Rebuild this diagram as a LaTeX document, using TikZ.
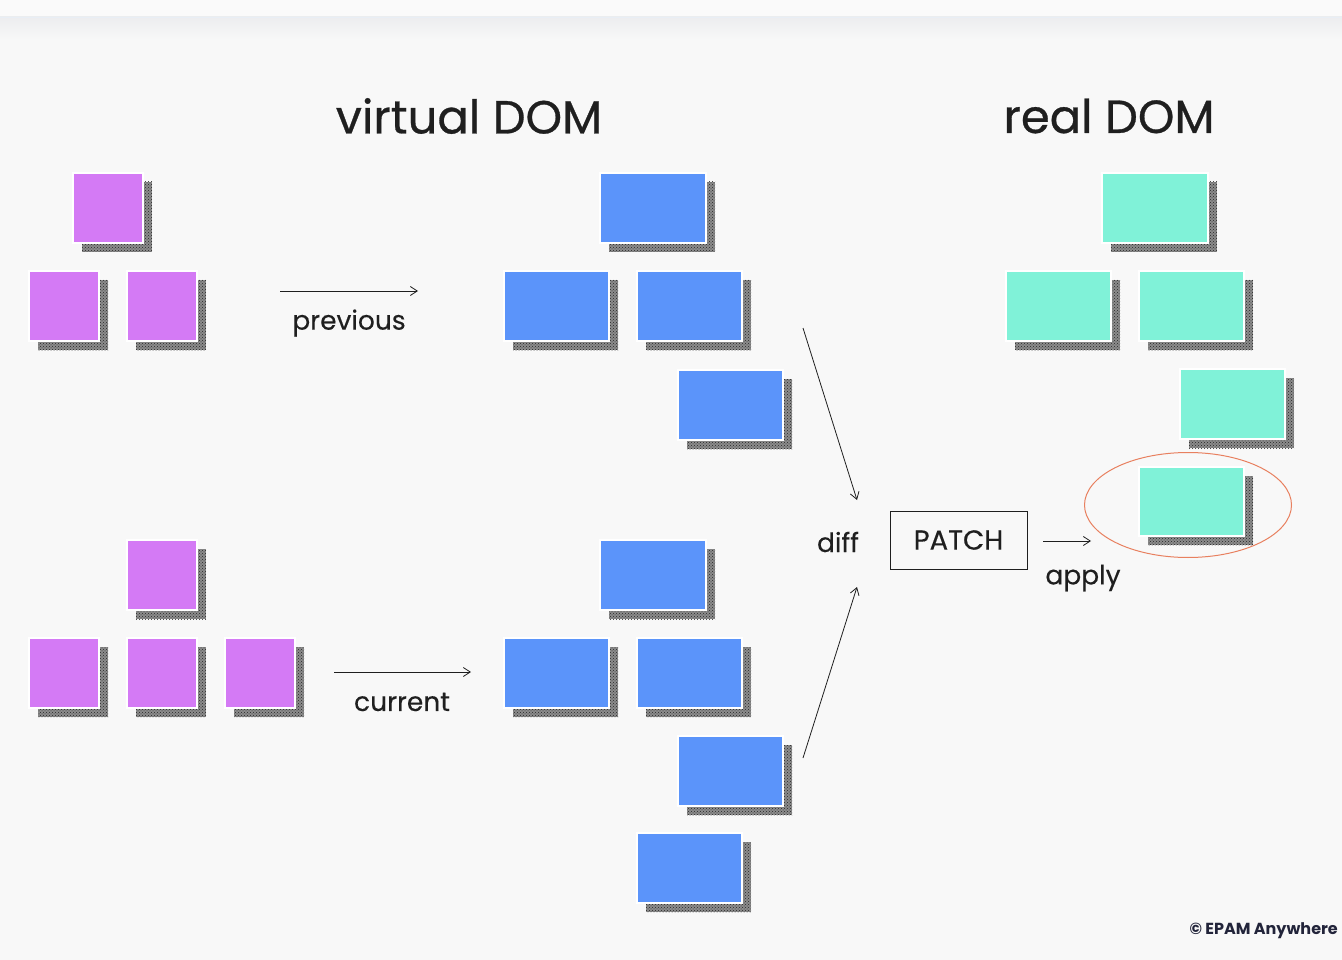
\documentclass[tikz,border=0pt]{standalone}
\usepackage{fontspec}
\setmainfont{Poppins}
\newfontfamily\medfont{Poppins}[FakeBold=0.6]
\newfontfamily\lblfont{Poppins}[FakeBold=0.3]
\usetikzlibrary{arrows.meta,patterns,shapes.geometric}
\definecolor{bg}{HTML}{F8F8F8}
\definecolor{topbar}{HTML}{FAFAFA}
\definecolor{shtop}{HTML}{ECEDEF}
\definecolor{barline}{HTML}{E8EEF5}
\definecolor{purp}{HTML}{D47AF5}
\definecolor{blu}{HTML}{5B94FA}
\definecolor{grn}{HTML}{80F2D8}
\definecolor{ink}{HTML}{1F1F1F}
\definecolor{ring}{HTML}{E8805F}
\definecolor{navy}{HTML}{22243A}
\tikzset{
  pbox/.style={fill=purp,draw=white,line width=1.6pt,inner sep=0pt},
  bbox/.style={fill=blu,draw=white,line width=1.6pt,inner sep=0pt},
  gbox/.style={fill=grn,draw=white,line width=1.6pt,inner sep=0pt},
  shadowfill/.style={fill=black!45,postaction={pattern=crosshatch dots,pattern color=black!85}},
  title/.style={font=\medfont\fontsize{46.5}{52}\selectfont,text=ink,inner sep=0pt},
  lbl/.style={font=\lblfont\fontsize{26.5}{30}\selectfont,text=ink,inner sep=0pt},
  conn/.style={draw=ink,line width=0.8pt,-{Straight Barb[length=7pt,width=9pt]}},
}
\newcommand\tbox[6]{%
  \path[shadowfill] (#2+10,#3+10) rectangle ++(#4,#5);
  \node[#6,minimum width=#4pt,minimum height=#5pt,anchor=north west] (#1) at (#2,#3) {};
}
\begin{document}
\begin{tikzpicture}[x=1pt,y=-1pt]
\useasboundingbox (0,0) rectangle (1342,960);
\fill[bg] (0,0) rectangle (1342,960);
\fill[topbar] (0,0) rectangle (1342,17);
\shade[top color=shtop,bottom color=bg] (0,17) rectangle (1342,40);
\draw[barline,line width=0.6pt] (0,17) -- (1342,17);

% titles
\node[title] (tv) at (469,116) {virtual DOM};
\node[title] (tr) at (1109,116) {real DOM};

% purple top tree
\tbox{p1}{72}{172}{70}{70}{pbox}
\tbox{p2}{28}{270}{70}{70}{pbox}
\tbox{p3}{126}{270}{70}{70}{pbox}
% purple bottom tree
\tbox{p4}{126}{539}{70}{70}{pbox}
\tbox{p5}{28}{637}{70}{70}{pbox}
\tbox{p6}{126}{637}{70}{70}{pbox}
\tbox{p7}{224}{637}{70}{70}{pbox}

% blue top
\tbox{b1}{599}{172}{106}{70}{bbox}
\tbox{b2}{503}{270}{105}{70}{bbox}
\tbox{b3}{636}{270}{105}{70}{bbox}
\tbox{b4}{677}{369}{105}{70}{bbox}
% blue bottom
\tbox{b5}{599}{539}{106}{70}{bbox}
\tbox{b6}{503}{637}{105}{70}{bbox}
\tbox{b7}{636}{637}{105}{70}{bbox}
\tbox{b8}{677}{735}{105}{70}{bbox}
\tbox{b9}{636}{832}{105}{70}{bbox}

% green
\tbox{g1}{1101}{172}{106}{70}{gbox}
\tbox{g2}{1005}{270}{105}{70}{gbox}
\tbox{g3}{1138}{270}{105}{70}{gbox}
\tbox{g4}{1179}{368}{105}{70}{gbox}
\tbox{g5}{1138}{466}{105}{69}{gbox}
\node[ellipse,draw=ring,line width=1pt,minimum width=207pt,minimum height=105pt,inner sep=0pt] (ring) at (1188,505) {};

% labels and arrows
\coordinate (pa1) at (280,291);
\coordinate (pa2) at (418,291);
\draw[conn] (pa1) -- (pa2);
\node[lbl] (prev) at (349,323) {previous};
\coordinate (ca1) at (334,672);
\coordinate (ca2) at (471,672);
\draw[conn] (ca1) -- (ca2);
\node[lbl] (cur) at (402,702) {current};

\node[lbl] (diff) at (838,542) {diff};
\node[draw=ink,line width=1pt,minimum width=137pt,minimum height=58pt,inner sep=0pt,font=\lblfont\fontsize{27.5}{30}\selectfont,text=ink] (patch) at (958.5,540) {PATCH};
\coordinate (d1) at (803,328);
\coordinate (d2) at (857,500);
\draw[conn] (d1) -- (d2);
\coordinate (d3) at (803,758);
\coordinate (d4) at (857,587);
\draw[conn] (d3) -- (d4);
\coordinate (a1) at (1043,541);
\coordinate (a2) at (1091,541);
\draw[conn] (a1) -- (a2);
\node[lbl] (apply) at (1083,578) {apply};

\node[font=\fontsize{16}{19}\selectfont\bfseries,text=navy,anchor=east,inner sep=0pt] (foot) at (1338,931) {© EPAM Anywhere};
\end{tikzpicture}
\end{document}
